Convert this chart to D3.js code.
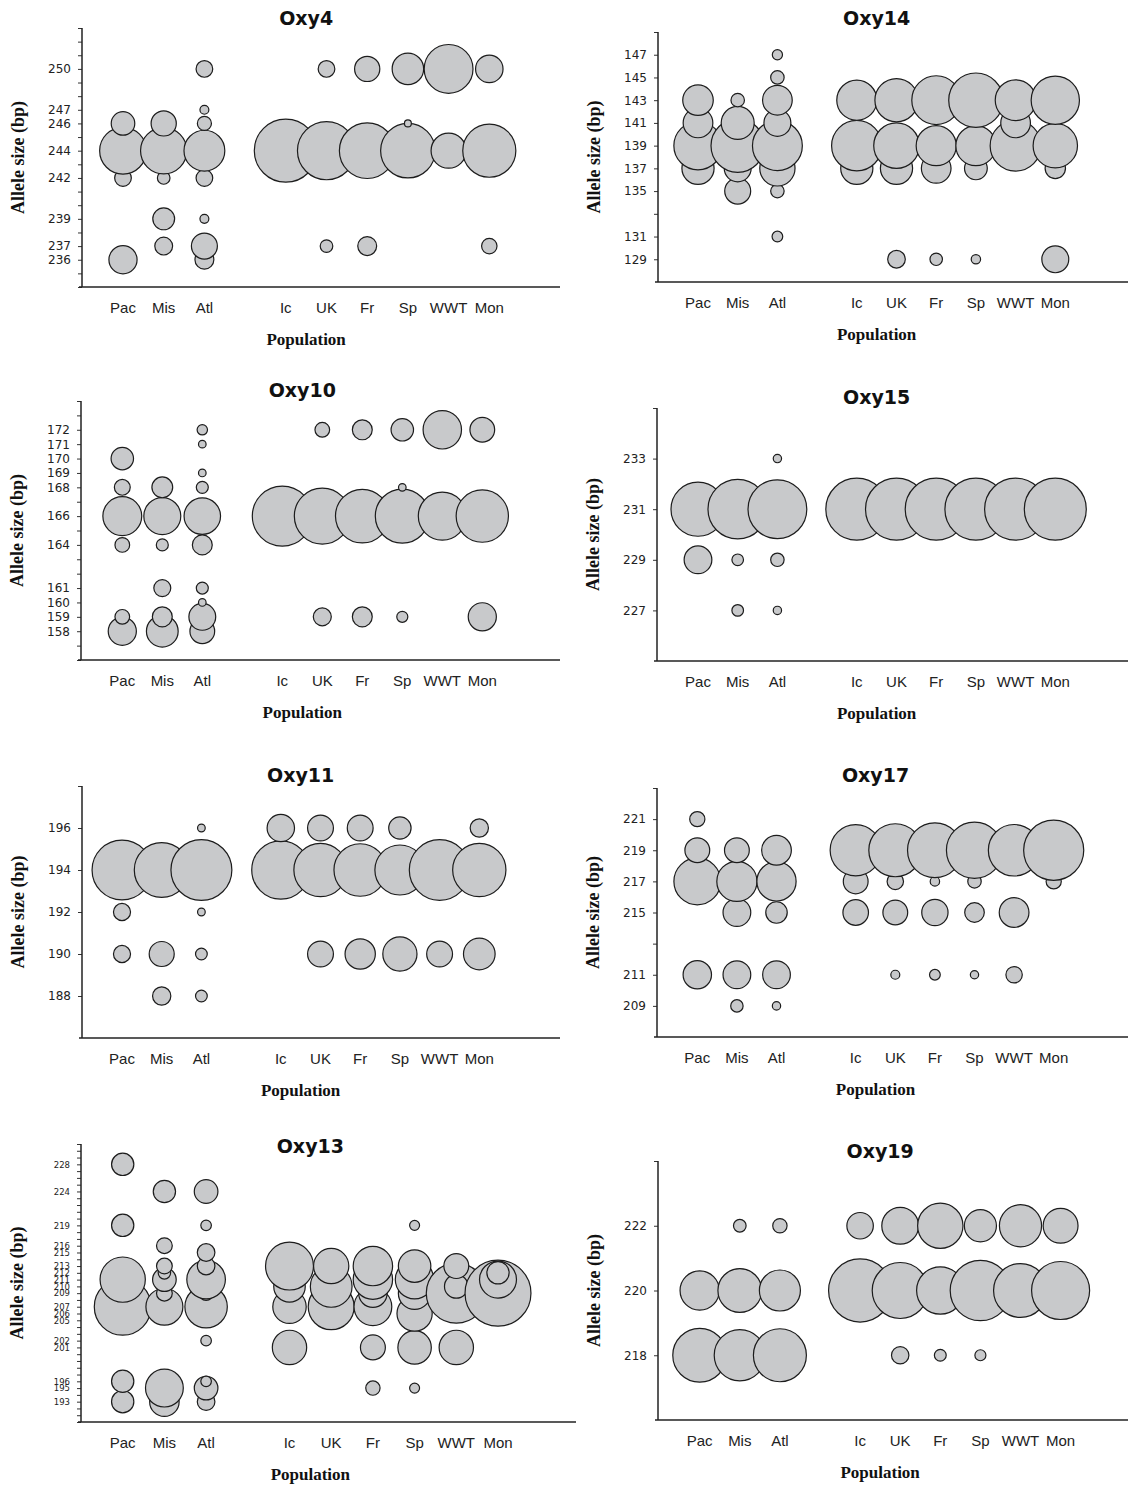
<!DOCTYPE html>
<html>
<head>
<meta charset="utf-8">
<script src="https://cdn.jsdelivr.net/npm/d3@7"></script>
<style>
body { margin: 0; background: #fff; }
svg { display: block; }
</style>
</head>
<body>
<svg id="chart" width="1128" height="1485"></svg>
<script>
// populations, with a gap slot between the native and the introduced groups
const POPS = ['Pac', 'Mis', 'Atl', 'Ic', 'UK', 'Fr', 'Sp', 'WWT', 'Mon'];
const POP_SLOT = [0, 1, 2, 4, 5, 6, 7, 8, 9];

// [population, allele (bp), frequency]
const oxy4 = [
    ['Pac', 246, .14], ['Pac', 244, .55], ['Pac', 242, .07], ['Pac', 236, .20],
    ['Mis', 246, .16], ['Mis', 244, .54], ['Mis', 242, .04], ['Mis', 239, .12], ['Mis', 237, .08],
    ['Atl', 250, .07], ['Atl', 247, .02], ['Atl', 246, .05], ['Atl', 244, .42], ['Atl', 242, .07], ['Atl', 239, .02], ['Atl', 237, .17], ['Atl', 236, .09],
    ['Ic', 244, 1.0],
    ['UK', 250, .07], ['UK', 244, .85], ['UK', 237, .04],
    ['Fr', 250, .16], ['Fr', 244, .78], ['Fr', 237, .09],
    ['Sp', 250, .25], ['Sp', 246, .012], ['Sp', 244, .75],
    ['WWT', 250, .60], ['WWT', 244, .31],
    ['Mon', 250, .19], ['Mon', 244, .71], ['Mon', 237, .06]
];
const oxy4Labels = [236, 237, 239, 242, 244, 246, 247, 250];

const oxy14 = [
    ['Pac', 143, .18], ['Pac', 141, .17], ['Pac', 139, .45], ['Pac', 137, .20],
    ['Mis', 143, .035], ['Mis', 141, .21], ['Mis', 139, .55], ['Mis', 137, .14], ['Mis', 135, .13],
    ['Atl', 147, .02], ['Atl', 145, .035], ['Atl', 143, .17], ['Atl', 141, .14], ['Atl', 139, .48], ['Atl', 137, .24], ['Atl', 135, .035], ['Atl', 131, .022],
    ['Ic', 143, .31], ['Ic', 139, .49], ['Ic', 137, .20],
    ['UK', 143, .36], ['UK', 139, .40], ['UK', 137, .20], ['UK', 129, .06],
    ['Fr', 143, .46], ['Fr', 139, .31], ['Fr', 137, .17], ['Fr', 129, .03],
    ['Sp', 143, .57], ['Sp', 139, .31], ['Sp', 137, .10], ['Sp', 129, .017],
    ['WWT', 143, .32], ['WWT', 141, .17], ['WWT', 139, .50],
    ['Mon', 143, .45], ['Mon', 139, .38], ['Mon', 137, .08], ['Mon', 129, .14]
];
const oxy14Labels = [129, 131, 135, 137, 139, 141, 143, 145, 147];

const oxy10 = [
    ['Pac', 170, .14], ['Pac', 168, .07], ['Pac', 166, .42], ['Pac', 164, .06], ['Pac', 159, .06], ['Pac', 158, .22],
    ['Mis', 168, .12], ['Mis', 166, .38], ['Mis', 164, .04], ['Mis', 161, .08], ['Mis', 159, .11], ['Mis', 158, .28],
    ['Atl', 172, .03], ['Atl', 171, .016], ['Atl', 169, .016], ['Atl', 168, .04], ['Atl', 166, .37], ['Atl', 164, .11], ['Atl', 161, .04], ['Atl', 160, .016], ['Atl', 159, .20], ['Atl', 158, .17],
    ['Ic', 166, 1.0],
    ['UK', 172, .06], ['UK', 166, .87], ['UK', 159, .09],
    ['Fr', 172, .11], ['Fr', 166, .80], ['Fr', 159, .11],
    ['Sp', 172, .14], ['Sp', 168, .016], ['Sp', 166, .81], ['Sp', 159, .034],
    ['WWT', 172, .41], ['WWT', 166, .64],
    ['Mon', 172, .17], ['Mon', 166, .76], ['Mon', 159, .22]
];
const oxy10Labels = [158, 159, 160, 161, 164, 166, 168, 169, 170, 171, 172];

const oxy15 = [
    ['Pac', 231, .76], ['Pac', 229, .20],
    ['Mis', 231, .92], ['Mis', 229, .035], ['Mis', 227, .035],
    ['Atl', 233, .018], ['Atl', 231, .90], ['Atl', 229, .047], ['Atl', 227, .018],
    ['Ic', 231, 1.0], ['UK', 231, 1.0], ['Fr', 231, 1.0],
    ['Sp', 231, 1.0], ['WWT', 231, 1.0], ['Mon', 231, 1.0]
];
const oxy15Labels = [227, 229, 231, 233];

const oxy11 = [
    ['Pac', 194, .86], ['Pac', 192, .07], ['Pac', 190, .07],
    ['Mis', 194, .72], ['Mis', 190, .15], ['Mis', 188, .08],
    ['Atl', 196, .014], ['Atl', 194, .89], ['Atl', 192, .014], ['Atl', 190, .033], ['Atl', 188, .033],
    ['Ic', 196, .18], ['Ic', 194, .81],
    ['UK', 196, .16], ['UK', 194, .68], ['UK', 190, .16],
    ['Fr', 196, .16], ['Fr', 194, .66], ['Fr', 190, .22],
    ['Sp', 196, .12], ['Sp', 194, .60], ['Sp', 190, .28],
    ['WWT', 194, .88], ['WWT', 190, .16],
    ['Mon', 196, .08], ['Mon', 194, .68], ['Mon', 190, .24]
];
const oxy11Labels = [188, 190, 192, 194, 196];

const oxy17 = [
    ['Pac', 221, .06], ['Pac', 219, .16], ['Pac', 217, .57], ['Pac', 211, .21],
    ['Mis', 219, .16], ['Mis', 217, .42], ['Mis', 215, .20], ['Mis', 211, .20], ['Mis', 209, .04],
    ['Atl', 219, .23], ['Atl', 217, .40], ['Atl', 215, .12], ['Atl', 211, .20], ['Atl', 209, .018],
    ['Ic', 219, .68], ['Ic', 217, .16], ['Ic', 215, .17],
    ['UK', 219, .73], ['UK', 217, .07], ['UK', 215, .16], ['UK', 211, .021],
    ['Fr', 219, .78], ['Fr', 217, .023], ['Fr', 215, .18], ['Fr', 211, .03],
    ['Sp', 219, .82], ['Sp', 217, .047], ['Sp', 215, .10], ['Sp', 211, .018],
    ['WWT', 219, .69], ['WWT', 215, .23], ['WWT', 211, .07],
    ['Mon', 219, .94], ['Mon', 217, .06]
];
const oxy17Labels = [209, 211, 215, 217, 219, 221];

const oxy13 = [
    ['Pac', 228, .08], ['Pac', 219, .08], ['Pac', 211, .33], ['Pac', 207, .52], ['Pac', 196, .08], ['Pac', 193, .08],
    ['Mis', 224, .08], ['Mis', 216, .04], ['Mis', 213, .04], ['Mis', 212, .025], ['Mis', 211, .09], ['Mis', 209, .04], ['Mis', 207, .22], ['Mis', 195, .23], ['Mis', 193, .14],
    ['Atl', 224, .09], ['Atl', 219, .018], ['Atl', 215, .05], ['Atl', 213, .05], ['Atl', 211, .24], ['Atl', 209, .033], ['Atl', 207, .29], ['Atl', 205, .01], ['Atl', 202, .018], ['Atl', 196, .018], ['Atl', 195, .09], ['Atl', 193, .05],
    ['Ic', 213, .37], ['Ic', 210, .16], ['Ic', 207, .18], ['Ic', 201, .19],
    ['UK', 213, .20], ['UK', 210, .28], ['UK', 207, .34],
    ['Fr', 213, .25], ['Fr', 211, .25], ['Fr', 209, .13], ['Fr', 207, .23], ['Fr', 201, .10], ['Fr', 195, .033],
    ['Sp', 219, .016], ['Sp', 213, .17], ['Sp', 211, .24], ['Sp', 209, .17], ['Sp', 206, .20], ['Sp', 201, .18], ['Sp', 195, .016],
    ['WWT', 213, .10], ['WWT', 210, .09], ['WWT', 209, .58], ['WWT', 201, .19],
    ['Mon', 212, .08], ['Mon', 211, .22], ['Mon', 209, .70]
];
const oxy13Labels = [193, 195, 196, 201, 202, 205, 206, 207, 209, 210, 211, 212, 213, 215, 216, 219, 224, 228];

const oxy19 = [
    ['Pac', 220, .33], ['Pac', 218, .62],
    ['Mis', 222, .034], ['Mis', 220, .41], ['Mis', 218, .56],
    ['Atl', 222, .044], ['Atl', 220, .36], ['Atl', 218, .60],
    ['Ic', 222, .15], ['Ic', 220, .85],
    ['UK', 222, .29], ['UK', 220, .67], ['UK', 218, .065],
    ['Fr', 222, .44], ['Fr', 220, .48], ['Fr', 218, .03],
    ['Sp', 222, .22], ['Sp', 220, .78], ['Sp', 218, .026],
    ['WWT', 222, .38], ['WWT', 220, .62],
    ['Mon', 222, .26], ['Mon', 220, .72]
];
const oxy19Labels = [218, 220, 222];

// panel layout (local coords inside each 564x375 cell)
const panels = [
    { name: 'Oxy4',  rows: oxy4,  labels: oxy4Labels,  domain: [234, 253], tickStart: 234, tickStep: 1, col: 0, row: 0, ax: 82, top: 28, bot: 287, x0: 123,   dx: 40.7, rMax: 31.5, titleY: 25, fs: 12 },
    { name: 'Oxy14', rows: oxy14, labels: oxy14Labels, domain: [127, 149], tickStart: 129, tickStep: 2, col: 1, row: 0, ax: 90, top: 32, bot: 282, x0: 130,   dx: 39.7, rMax: 36,   titleY: 25, fs: 12 },
    { name: 'Oxy10', rows: oxy10, labels: oxy10Labels, domain: [156, 174], tickStart: 156, tickStep: 1, col: 0, row: 1, ax: 81, top: 26, bot: 285, x0: 122.3, dx: 40,   rMax: 30,   titleY: 22, fs: 12 },
    { name: 'Oxy15', rows: oxy15, labels: oxy15Labels, domain: [225, 235], tickStart: 227, tickStep: 2, col: 1, row: 1, ax: 89, top: 33, bot: 286, x0: 130,   dx: 39.7, rMax: 31,   titleY: 29, fs: 12 },
    { name: 'Oxy11', rows: oxy11, labels: oxy11Labels, domain: [186, 198], tickStart: 188, tickStep: 2, col: 0, row: 2, ax: 82, top: 36, bot: 288, x0: 122,   dx: 39.7, rMax: 32.3, titleY: 32, fs: 12 },
    { name: 'Oxy17', rows: oxy17, labels: oxy17Labels, domain: [207, 223], tickStart: 209, tickStep: 2, col: 1, row: 2, ax: 89, top: 38, bot: 287, x0: 129.3, dx: 39.6, rMax: 31,   titleY: 32, fs: 12 },
    { name: 'Oxy13', rows: oxy13, labels: oxy13Labels, domain: [190, 231], tickStart: 190, tickStep: 1, col: 0, row: 3, ax: 81, top: 19, bot: 297, x0: 122.7, dx: 41.7, rMax: 39.4, titleY: 28, fs: 8.5 },
    { name: 'Oxy19', rows: oxy19, labels: oxy19Labels, domain: [216, 224], tickStart: 218, tickStep: 2, col: 1, row: 3, ax: 90, top: 36, bot: 295, x0: 131.7, dx: 40.1, rMax: 34.2, titleY: 33, fs: 12 }
];

const colX = [0, 568];
const rowY = [0, 375, 750, 1125];

const svg = d3.select('#chart');

panels.forEach(function(p) {
    const g = svg.append('g')
        .attr('transform', `translate(${colX[p.col]},${rowY[p.row]})`);

    const y = d3.scaleLinear().domain(p.domain).range([p.bot, p.top]);
    const x = d3.scaleLinear().domain([0, 9]).range([p.x0, p.x0 + 9 * p.dx]);
    const r = d3.scaleSqrt().domain([0, 1]).range([0, p.rMax]);

    // bubbles: population order, then ascending allele so higher ones sit on top
    const pts = p.rows.map(d => ({ pop: d[0], allele: d[1], freq: d[2], slot: POP_SLOT[POPS.indexOf(d[0])] }))
        .sort((a, b) => (a.slot - b.slot) || (a.allele - b.allele));

    g.append('g')
        .selectAll('circle')
        .data(pts)
        .enter()
        .append('circle')
            .attr('cx', d => x(d.slot))
            .attr('cy', d => y(d.allele))
            .attr('r', d => r(d.freq))
            .attr('fill', '#c8c9cb')
            .attr('stroke', '#1c1c1c')
            .attr('stroke-width', 1.2);

    // y axis
    const ticks = d3.range(p.tickStart, p.domain[1] + 0.001, p.tickStep);
    const yAxis = d3.axisLeft(y)
        .tickValues(ticks)
        .tickSize(4)
        .tickSizeOuter(0)
        .tickPadding(7)
        .tickFormat(d => p.labels.includes(d) ? d : '');
    const ya = g.append('g')
        .attr('transform', `translate(${p.ax},0)`)
        .call(yAxis);
    ya.select('.domain').remove();
    ya.selectAll('line').attr('stroke', '#333').attr('stroke-width', 1);
    ya.selectAll('text')
        .attr('font-family', '"DejaVu Sans", Verdana, sans-serif')
        .attr('font-size', p.fs)
        .attr('fill', '#222');

    g.append('line')
        .attr('x1', p.ax).attr('x2', p.ax)
        .attr('y1', p.top).attr('y2', p.bot)
        .attr('stroke', '#222').attr('stroke-width', 1.5);

    // x axis line, no ticks
    g.append('line')
        .attr('x1', p.ax - 3).attr('x2', p.name == 'Oxy13' ? 576 : 560)
        .attr('y1', p.bot).attr('y2', p.bot)
        .attr('stroke', '#222').attr('stroke-width', 1.5);

    g.append('g')
        .selectAll('text')
        .data(POPS)
        .enter()
        .append('text')
            .attr('x', (d, i) => x(POP_SLOT[i]))
            .attr('y', p.bot + 26)
            .attr('text-anchor', 'middle')
            .attr('font-family', '"Liberation Sans", Arial, sans-serif')
            .attr('font-size', 15)
            .attr('fill', '#222')
            .text(d => d);

    const midX = p.x0 + 4.5 * p.dx;

    g.append('text')
        .attr('x', midX)
        .attr('y', p.titleY)
        .attr('text-anchor', 'middle')
        .attr('font-family', '"DejaVu Sans", Verdana, sans-serif')
        .attr('font-weight', 'bold')
        .attr('font-size', 19)
        .attr('fill', '#111')
        .text(p.name);

    g.append('text')
        .attr('x', midX)
        .attr('y', p.bot + 58)
        .attr('text-anchor', 'middle')
        .attr('font-family', '"Liberation Serif", "Times New Roman", serif')
        .attr('font-weight', 'bold')
        .attr('font-size', 17)
        .attr('fill', '#111')
        .text('Population');

    g.append('text')
        .attr('transform', `translate(${p.ax - 58},${(p.top + p.bot) / 2}) rotate(-90)`)
        .attr('text-anchor', 'middle')
        .attr('font-family', '"Liberation Serif", "Times New Roman", serif')
        .attr('font-weight', 'bold')
        .attr('font-size', 18)
        .attr('fill', '#111')
        .text('Allele size (bp)');
});
</script>
</body>
</html>
